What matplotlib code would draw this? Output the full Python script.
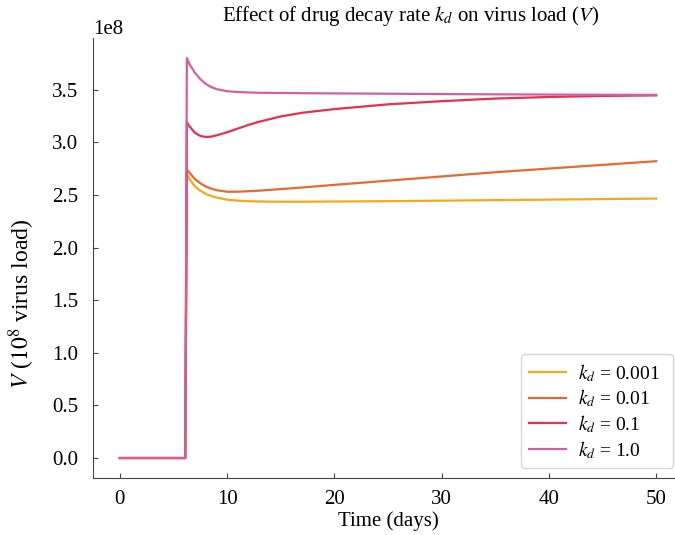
import matplotlib
matplotlib.use("Agg")
import matplotlib.pyplot as plt
import numpy as np

plt.rcParams["font.family"] = ["Liberation Serif", "DejaVu Serif"]
plt.rcParams["mathtext.fontset"] = "stix"

# time grid (days) and virus load (x1e8) for each drug decay rate
t = [0, 6.1, 6.25, 6.5, 7, 7.5, 8, 8.5, 9, 10, 11, 12, 13, 15, 17, 20,
     25, 30, 35, 40, 45, 50]
V_kd_0001 = [0, 0, 2.70, 2.65, 2.58, 2.54, 2.51, 2.49, 2.475, 2.455, 2.445,
             2.44, 2.437, 2.435, 2.435, 2.437, 2.44, 2.445, 2.45, 2.455,
             2.46, 2.465]
V_kd_001 = [0, 0, 2.74, 2.71, 2.65, 2.61, 2.58, 2.56, 2.545, 2.53, 2.53,
            2.535, 2.54, 2.555, 2.57, 2.595, 2.635, 2.675, 2.715, 2.75,
            2.785, 2.82]
V_kd_01 = [0, 0, 3.19, 3.15, 3.09, 3.06, 3.05, 3.053, 3.065, 3.095, 3.13,
           3.165, 3.195, 3.245, 3.28, 3.315, 3.36, 3.39, 3.415, 3.43, 3.44,
           3.445]
V_kd_1 = [0, 0, 3.80, 3.74, 3.66, 3.60, 3.555, 3.525, 3.505, 3.485, 3.477,
          3.473, 3.47, 3.468, 3.466, 3.464, 3.461, 3.458, 3.455, 3.453,
          3.451, 3.45]

labels = ["$k_d$ = 0.001  ", "$k_d$ = 0.01  ", "$k_d$ = 0.1  ", "$k_d$ = 1.0  "]
colors = ["#F6A81C", "#E8692E", "#E5304E", "#D45FA0"]

fig = plt.figure(figsize=(6.75, 5.35), dpi=100)
ax = fig.add_axes([0.1378, 0.1065, 0.8741, 0.8224])

for V, lab, c in zip([V_kd_0001, V_kd_001, V_kd_01, V_kd_1], labels, colors):
    ax.plot(t, np.array(V) * 1e8, color=c, lw=1.6, label=lab)

ax.set_title("Effect of drug decay rate $k_d$ on virus load ($V$)",
             fontsize=15, pad=12, x=0.539)
ax.set_xlabel("Time (days)", fontsize=15, labelpad=2)
ax.set_ylabel("$V$ ($10^8$ virus load)", fontsize=17)
ax.yaxis.set_label_coords(-0.095, 0.395)

for side in ["top", "right"]:
    ax.spines[side].set_visible(False)
for side in ["left", "bottom"]:
    ax.spines[side].set_color("#444444")
ax.tick_params(direction="in", labelsize=15, colors="#444444",
               labelcolor="black")
ax.tick_params(axis="x", pad=8.5)
ax.tick_params(axis="y", pad=10.5)
ax.yaxis.get_offset_text().set_fontsize(15)

ax.legend(loc="lower right", fontsize=14, framealpha=0.8,
          labelspacing=0.2, handlelength=1.9, handletextpad=0.6)

fig.savefig("out.png", dpi=100)
